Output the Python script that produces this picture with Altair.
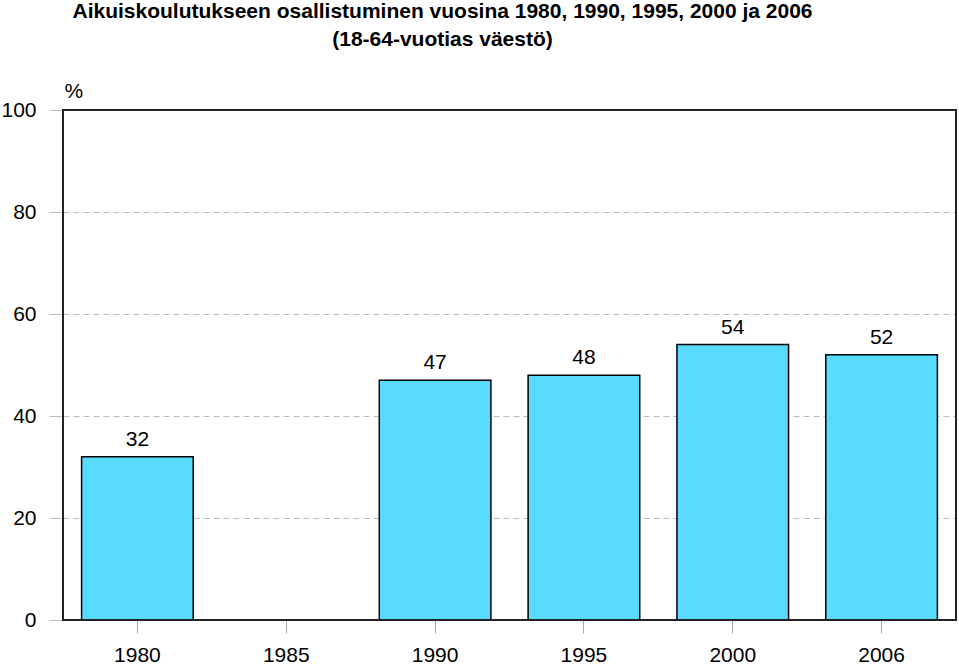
import altair as alt
import pandas as pd

years = ["1980", "1985", "1990", "1995", "2000", "2006"]
values = [32, None, 47, 48, 54, 52]
y_ticks = [0, 20, 40, 60, 80, 100]
title_lines = [
    "Aikuiskoulutukseen osallistuminen vuosina 1980, 1990, 1995, 2000 ja 2006",
    "(18-64-vuotias väestö)",
]

df = pd.DataFrame({"year": years, "value": values})
FONT = "Liberation Sans"
x_scale = alt.Scale(domain=years, paddingInner=0.25, paddingOuter=0.125)
y_scale = alt.Scale(domain=[0, 100], nice=False)

x_enc = alt.X(
    "year:N",
    scale=x_scale,
    axis=alt.Axis(
        title=None, labelAngle=0, labelFontSize=21, labelFont=FONT, labelColor="black",
        tickSize=13, tickColor="#aaaaaa", tickWidth=1, labelPadding=11,
        domain=False, grid=False,
    ),
)

bars = alt.Chart(df).mark_bar(
    color="#58DBFF", stroke="black", strokeWidth=1.5
).encode(
    x=x_enc,
    y=alt.Y(
        "value:Q",
        scale=y_scale,
        axis=alt.Axis(
            values=y_ticks, title="%", titleAngle=0, titleAlign="left",
            titleBaseline="alphabetic", titleX=1, titleY=-13, titleFontSize=21,
            titleFontWeight="normal", titleFont=FONT, titleColor="black",
            labelFontSize=21, labelFont=FONT, labelColor="black", labelPadding=13,
            tickSize=14, tickColor="#bbbbbb", tickWidth=1,
            grid=True, gridColor="#bbbbbb", gridDash=[6, 4], gridWidth=1,
            domain=False,
        ),
    ),
)

labels = alt.Chart(df).transform_filter("datum.value != null").mark_text(
    fontSize=21, font=FONT, color="black", baseline="alphabetic", dy=-11
).encode(
    x=alt.X("year:N", scale=x_scale),
    y=alt.Y("value:Q", scale=y_scale),
    text=alt.Text("value:Q"),
)

frame = alt.Chart(df).mark_rect(
    fill=None, stroke="#222222", strokeWidth=2
).encode(
    x=alt.value(0), x2=alt.value(893), y=alt.value(0), y2=alt.value(510)
).transform_filter("datum.year == '1980'")

chart = (
    alt.layer(bars, labels, frame)
    .properties(
        width=893,
        height=510,
        autosize=alt.AutoSizeParams(type="none"),
        padding={"left": 63, "top": 110, "right": 3, "bottom": 44},
        title=alt.TitleParams(
            text=title_lines, font=FONT, fontSize=21, fontWeight="bold", color="black",
            anchor="middle", frame="group", dx=-67, lineHeight=28, offset=30,
        ),
    )
    .configure_view(stroke=None)
    .configure(background="white")
)

chart.save("out.html", embed_options={"renderer": "svg", "actions": False})
